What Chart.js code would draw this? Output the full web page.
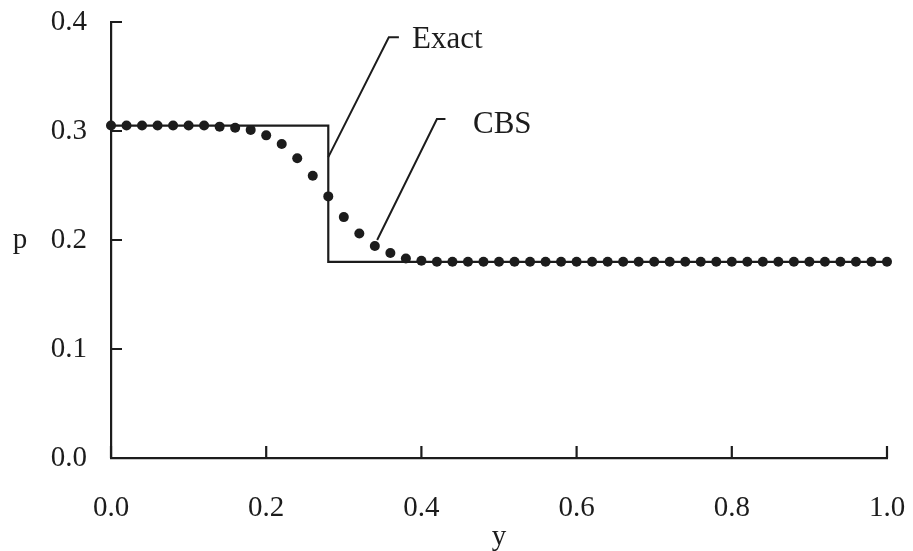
<!DOCTYPE html>
<html>
<head>
<meta charset="utf-8">
<script src="https://cdn.jsdelivr.net/npm/chart.js@4.4.1/dist/chart.umd.min.js"></script>
<style>
  html, body { margin: 0; padding: 0; background: #fff; }
  canvas { display: block; }
</style>
</head>
<body>
<canvas id="chart" width="913" height="551"></canvas>
<script>
// CBS solution, sampled every 0.02 in y
const cbsY = [0.00, 0.02, 0.04, 0.06, 0.08, 0.10, 0.12, 0.14, 0.16, 0.18,
              0.20, 0.22, 0.24, 0.26, 0.28, 0.30, 0.32, 0.34, 0.36, 0.38,
              0.40, 0.42, 0.44, 0.46, 0.48, 0.50, 0.52, 0.54, 0.56, 0.58,
              0.60, 0.62, 0.64, 0.66, 0.68, 0.70, 0.72, 0.74, 0.76, 0.78,
              0.80, 0.82, 0.84, 0.86, 0.88, 0.90, 0.92, 0.94, 0.96, 0.98, 1.00];
const cbsP = [0.305, 0.305, 0.305, 0.305, 0.305, 0.305, 0.305, 0.304, 0.303, 0.301,
              0.296, 0.288, 0.275, 0.259, 0.240, 0.221, 0.206, 0.1945, 0.188, 0.183,
              0.181, 0.18, 0.18, 0.18, 0.18, 0.18, 0.18, 0.18, 0.18, 0.18,
              0.18, 0.18, 0.18, 0.18, 0.18, 0.18, 0.18, 0.18, 0.18, 0.18,
              0.18, 0.18, 0.18, 0.18, 0.18, 0.18, 0.18, 0.18, 0.18, 0.18, 0.18];

// exact step solution
const exactY = [0, 0.28, 0.28, 1.0];
const exactP = [0.305, 0.305, 0.18, 0.18];

const xTicks = [0, 0.2, 0.4, 0.6, 0.8, 1.0];
const yTicks = [0, 0.1, 0.2, 0.3, 0.4];

// labels with leader lines, in data units
const exactLeader = [[0.28, 0.276], [0.358, 0.386], [0.371, 0.386]];
const cbsLeader = [[0.343, 0.200], [0.420, 0.311], [0.431, 0.311]];
const exactLabel = [0.388, 0.376];
const cbsLabel = [0.4665, 0.298];

const ink = '#1c1c1c';
const serif = "'Liberation Serif', 'Times New Roman', serif";

const extras = {
    id: 'extras',
    afterDraw(chart) {
        const { ctx, chartArea, scales } = chart;
        const xs = scales.x, ys = scales.y;
        ctx.save();
        ctx.strokeStyle = ink;
        ctx.fillStyle = ink;
        ctx.lineWidth = 2.2;

        // inward tick marks
        ctx.beginPath();
        yTicks.forEach(v => {
            const py = ys.getPixelForValue(v);
            ctx.moveTo(chartArea.left, py);
            ctx.lineTo(chartArea.left + 11, py);
        });
        xTicks.forEach(v => {
            const px = xs.getPixelForValue(v);
            ctx.moveTo(px, chartArea.bottom);
            ctx.lineTo(px, chartArea.bottom - 12);
        });
        ctx.stroke();

        // leader lines
        ctx.lineWidth = 2;
        [exactLeader, cbsLeader].forEach(pts => {
            ctx.beginPath();
            pts.forEach(([a, b], i) => {
                const px = xs.getPixelForValue(a), py = ys.getPixelForValue(b);
                if (i === 0) ctx.moveTo(px, py); else ctx.lineTo(px, py);
            });
            ctx.stroke();
        });

        ctx.font = '31px ' + serif;
        ctx.textAlign = 'left';
        ctx.textBaseline = 'alphabetic';
        ctx.fillText('Exact', xs.getPixelForValue(exactLabel[0]), ys.getPixelForValue(exactLabel[1]));
        ctx.fillText('CBS', xs.getPixelForValue(cbsLabel[0]), ys.getPixelForValue(cbsLabel[1]));

        // unrotated y-axis title
        ctx.font = '29px ' + serif;
        ctx.textAlign = 'center';
        ctx.textBaseline = 'middle';
        ctx.fillText('p', 20, ys.getPixelForValue(0.2));
        ctx.restore();
    }
};

new Chart(document.getElementById('chart'), {
    type: 'scatter',
    data: {
        datasets: [{
            label: 'CBS',
            data: cbsY.map((y, i) => ({ x: y, y: cbsP[i] })),
            pointRadius: 5,
            pointBorderWidth: 0,
            pointBackgroundColor: ink,
            showLine: false,
            clip: false
        }, {
            label: 'Exact',
            data: exactY.map((y, i) => ({ x: y, y: exactP[i] })),
            showLine: true,
            pointRadius: 0,
            borderColor: ink,
            borderWidth: 2.2,
            tension: 0,
            clip: false
        }]
    },
    options: {
        responsive: false,
        animation: false,
        layout: { padding: { left: 0, right: 26, top: 22, bottom: 0 } },
        plugins: {
            legend: { display: false },
            tooltip: { enabled: false }
        },
        scales: {
            x: {
                type: 'linear',
                min: 0,
                max: 1,
                afterBuildTicks: s => { s.ticks = xTicks.map(v => ({ value: v })); },
                afterFit: s => { s.height = 93; s.paddingLeft = 0; s.paddingRight = 0; },
                grid: { display: false },
                border: { display: true, color: ink, width: 2.2 },
                ticks: {
                    padding: 25,
                    color: ink,
                    font: { family: serif, size: 29 },
                    callback: v => v.toFixed(1)
                },
                title: {
                    display: true,
                    text: 'y',
                    color: ink,
                    font: { family: serif, size: 29 },
                    padding: { top: 0, bottom: -4 }
                }
            },
            y: {
                type: 'linear',
                min: 0,
                max: 0.4,
                afterBuildTicks: s => { s.ticks = yTicks.map(v => ({ value: v })); },
                afterFit: s => { s.width = 111; s.paddingTop = 0; s.paddingBottom = 0; },
                grid: { display: false },
                border: { display: true, color: ink, width: 2.2 },
                ticks: {
                    padding: 16,
                    color: ink,
                    font: { family: serif, size: 29 },
                    callback: v => v.toFixed(1)
                }
            }
        }
    },
    plugins: [extras]
});
</script>
</body>
</html>
